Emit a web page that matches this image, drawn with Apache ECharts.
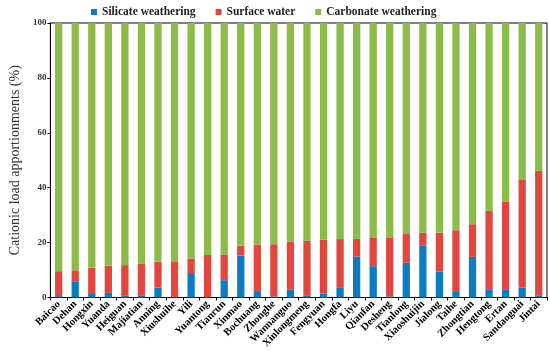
<!DOCTYPE html>
<html><head><meta charset="utf-8">
<script src="https://cdn.jsdelivr.net/npm/echarts@6/dist/echarts.min.js"></script>
<style>html,body{margin:0;padding:0;background:#fff}#c{width:550px;height:351px}</style>
</head><body><div id="c"></div>
<script>
const categories = ["Baicao","Dehan","Hongxin","Yuanda","Heiguan","Majiatian","Anning","Xiushuihe","Yili","Yuantong","Tianrun","Xinmao","Bochuang","Zhonghe","Wannanguo","Xinlongmeng","Fengyuan","Hongfa","Liyu","Qianfan","Desheng","Tianlong","Xiaoshuijin","Jialong","Taihe","Zhongtian","Hengtong","Ertan","Sandaoguai","Jintai"];
const silicate = [0.5,5.7,1.6,1.7,0.8,0.6,3.6,0.1,8.9,0,6.3,15.3,2.0,0.4,2.9,0.6,1.4,3.5,14.9,11.4,0.4,12.7,19.0,9.4,2.0,14.8,3.0,3.0,3.6,0.6];
const totalSilSurf = [9.6,9.9,10.8,11.6,11.8,12.4,13.1,13.2,14.2,15.5,15.7,18.9,19.3,19.4,20.4,20.7,21.1,21.3,21.4,21.7,21.9,23.1,23.6,23.6,24.5,26.7,31.5,35.0,42.8,46.2];
const surface = totalSilSurf.map((t,i)=>+(t - silicate[i]).toFixed(1));
const carbonate = totalSilSurf.map(t=>+(100 - t).toFixed(1));
const yTicks = [0,20,40,60,80,100];

const chart = echarts.init(document.getElementById('c'));
const serif = '"Liberation Serif","Times New Roman",serif';
chart.setOption({
  animation:false,
  legend:{top:1,left:86,itemWidth:6,itemHeight:6,itemGap:20,icon:'rect',
    textStyle:{fontFamily:serif,fontWeight:'bold',fontSize:11.5,color:'#222'}},
  grid:{left:40,right:3,top:23,bottom:53,show:true,borderColor:'#000',borderWidth:1},
  xAxis:{type:'category',data:categories,
    axisLine:{lineStyle:{color:'#000'}},
    axisTick:{show:true,length:3,lineStyle:{color:'#000'}},
    axisLabel:{rotate:45,interval:0,margin:5,fontFamily:serif,fontWeight:'bold',fontSize:10.5,color:'#000'}},
  yAxis:{type:'value',min:0,max:100,interval:20,
    name:'Cationic load apportionments (%)',nameLocation:'middle',nameGap:27,
    nameTextStyle:{fontFamily:serif,fontSize:14,color:'#333'},
    axisLine:{show:true,lineStyle:{color:'#000'}},
    axisTick:{show:true,length:3,lineStyle:{color:'#000'}},
    splitLine:{show:false},
    axisLabel:{margin:4,fontFamily:serif,fontWeight:'bold',fontSize:9,color:'#333',
      formatter:v=>yTicks.includes(v)?String(v):''}},
  series:[
    {name:'Silicate weathering',type:'bar',stack:'a',data:silicate,barWidth:'44%',itemStyle:{color:'#0b7cc1'}},
    {name:'Surface water',type:'bar',stack:'a',data:surface,itemStyle:{color:'#e2473f'}},
    {name:'Carbonate weathering',type:'bar',stack:'a',data:carbonate,itemStyle:{color:'#8bbc47'}}
  ]
});
</script></body></html>
